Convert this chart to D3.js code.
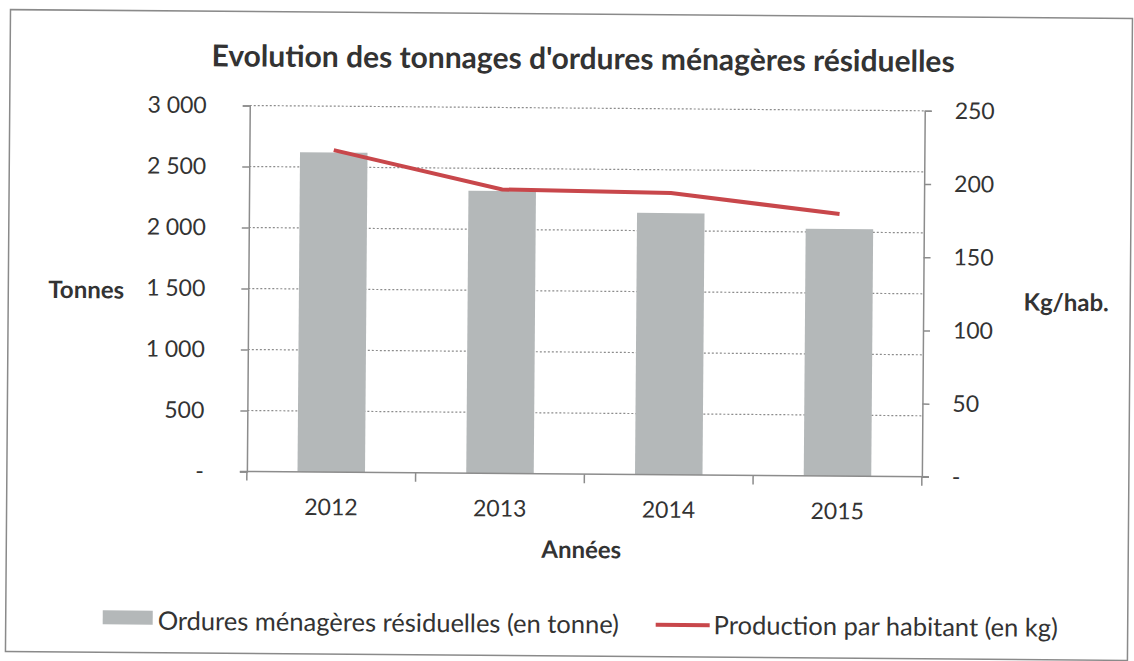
<!DOCTYPE html>
<html>
<head>
<meta charset="utf-8">
<script src="https://cdn.jsdelivr.net/npm/d3@7"></script>
<style>
  body { margin: 0; background: #fff; }
  text { font-family: Lato, "Open Sans", sans-serif; fill: #333; }
</style>
</head>
<body>
<div id="chart"></div>
<script>
// données
const annees = ["2012", "2013", "2014", "2015"];
const tonnages = [2620, 2315, 2145, 2025];
const parHabitant = [220, 194, 192.5, 179];
const ticksTonnes = [0, 500, 1000, 1500, 2000, 2500, 3000];
const ticksKg = [0, 50, 100, 150, 200, 250];

const W = 1134, H = 661;
const plot = { left: 248, right: 923, top: 108, bottom: 474 };

const fmtT = d => d === 0 ? "-" : d3.format(",")(d).replace(",", "\u2009\u2009");
const fmtK = d => d === 0 ? "-" : d;

const svg = d3.select("#chart").append("svg")
    .attr("width", W)
    .attr("height", H);

// le scan est un peu penché
const g = svg.append("g").attr("transform", "rotate(0.45 567 330)");

g.append("rect")
    .attr("x", 8).attr("y", 14)
    .attr("width", 1122).attr("height", 642)
    .attr("fill", "none")
    .attr("stroke", "#8a8a8a")
    .attr("stroke-width", 1.5);

const x = d3.scaleBand().domain(annees).range([plot.left, plot.right]).paddingInner(0.6).paddingOuter(0.3);
const yL = d3.scaleLinear().domain([0, 3000]).range([plot.bottom, plot.top]);
const yR = d3.scaleLinear().domain([0, 250]).range([plot.bottom, plot.top]);

// grille
g.selectAll("line.grid")
    .data(ticksTonnes.filter(d => d > 0))
    .join("line")
    .attr("class", "grid")
    .attr("x1", plot.left).attr("x2", plot.right)
    .attr("y1", d => yL(d)).attr("y2", d => yL(d))
    .attr("stroke", "#8c8c8c")
    .attr("stroke-width", 1.2)
    .attr("stroke-dasharray", "2,2");

// barres
g.selectAll("rect.bar")
    .data(tonnages)
    .join("rect")
    .attr("class", "bar")
    .attr("x", (d, i) => x(annees[i]))
    .attr("width", x.bandwidth())
    .attr("y", d => yL(d))
    .attr("height", d => yL(0) - yL(d))
    .attr("fill", "#b4b8b9");

// axes
const axeG = g.append("g").attr("transform", `translate(${plot.left},0)`)
    .call(d3.axisLeft(yL).tickValues(ticksTonnes).tickSize(7).tickPadding(36).tickFormat(fmtT));
const axeD = g.append("g").attr("transform", `translate(${plot.right},0)`)
    .call(d3.axisRight(yR).tickValues(ticksKg).tickSize(7).tickPadding(23).tickFormat(fmtK));
const xBand = d3.scalePoint().domain(d3.range(5)).range([plot.left, plot.right]);
const axeB = g.append("g").attr("transform", `translate(0,${plot.bottom})`);
axeB.append("line").attr("x1", plot.left - 7).attr("x2", plot.right + 7);
axeB.selectAll("line.t").data(d3.range(5)).join("line").attr("class", "t")
    .attr("x1", d => xBand(d)).attr("x2", d => xBand(d)).attr("y1", 0).attr("y2", 9);
axeB.selectAll("text").data(annees).join("text")
    .attr("x", d => x(d) + x.bandwidth() / 2)
    .attr("y", 43)
    .attr("text-anchor", "middle")
    .style("font-size", "23px")
    .text(d => d);
axeB.selectAll("line").attr("stroke", "#8c8c8c").attr("stroke-width", 1.5);

[axeG, axeD].forEach(a => {
    a.select(".domain").attr("stroke", "#8c8c8c").attr("stroke-width", 1.5);
    a.selectAll(".tick line").attr("stroke", "#8c8c8c").attr("stroke-width", 1.5);
    a.selectAll(".tick text").style("font-size", "23px").attr("fill", "#333");
});

// ligne
const ligne = d3.line()
    .x((d, i) => x(annees[i]) + x.bandwidth() / 2)
    .y(d => yR(d));
g.append("path")
    .datum(parHabitant)
    .attr("d", ligne)
    .attr("fill", "none")
    .attr("stroke", "#c8474b")
    .attr("stroke-width", 4);

// titres
g.append("text")
    .attr("x", 581).attr("y", 69)
    .attr("text-anchor", "middle")
    .style("font-size", "30px").style("font-weight", "bold")
    .attr("fill", "#2b2b2b")
    .text("Evolution des tonnages d'ordures ménagères résiduelles");

g.append("text")
    .attr("x", 86).attr("y", 302)
    .attr("text-anchor", "middle")
    .style("font-size", "24px").style("font-weight", "bold")
    .text("Tonnes");

g.append("text")
    .attr("x", 1066).attr("y", 307)
    .attr("text-anchor", "middle")
    .style("font-size", "24px").style("font-weight", "bold")
    .text("Kg/hab.");

g.append("text")
    .attr("x", 583).attr("y", 558)
    .attr("text-anchor", "middle")
    .style("font-size", "24px").style("font-weight", "bold")
    .text("Années");

// légende
const leg = g.append("g");
leg.append("rect").attr("x", 105).attr("y", 614).attr("width", 50).attr("height", 14).attr("fill", "#b4b8b9");
leg.append("text").attr("x", 160).attr("y", 633).style("font-size", "25.5px")
    .text("Ordures ménagères résiduelles (en tonne)");
leg.append("line").attr("x1", 658).attr("x2", 712).attr("y1", 624).attr("y2", 624)
    .attr("stroke", "#c8474b").attr("stroke-width", 4);
leg.append("text").attr("x", 716).attr("y", 633).style("font-size", "25.5px")
    .text("Production par habitant (en kg)");
</script>
</body>
</html>
